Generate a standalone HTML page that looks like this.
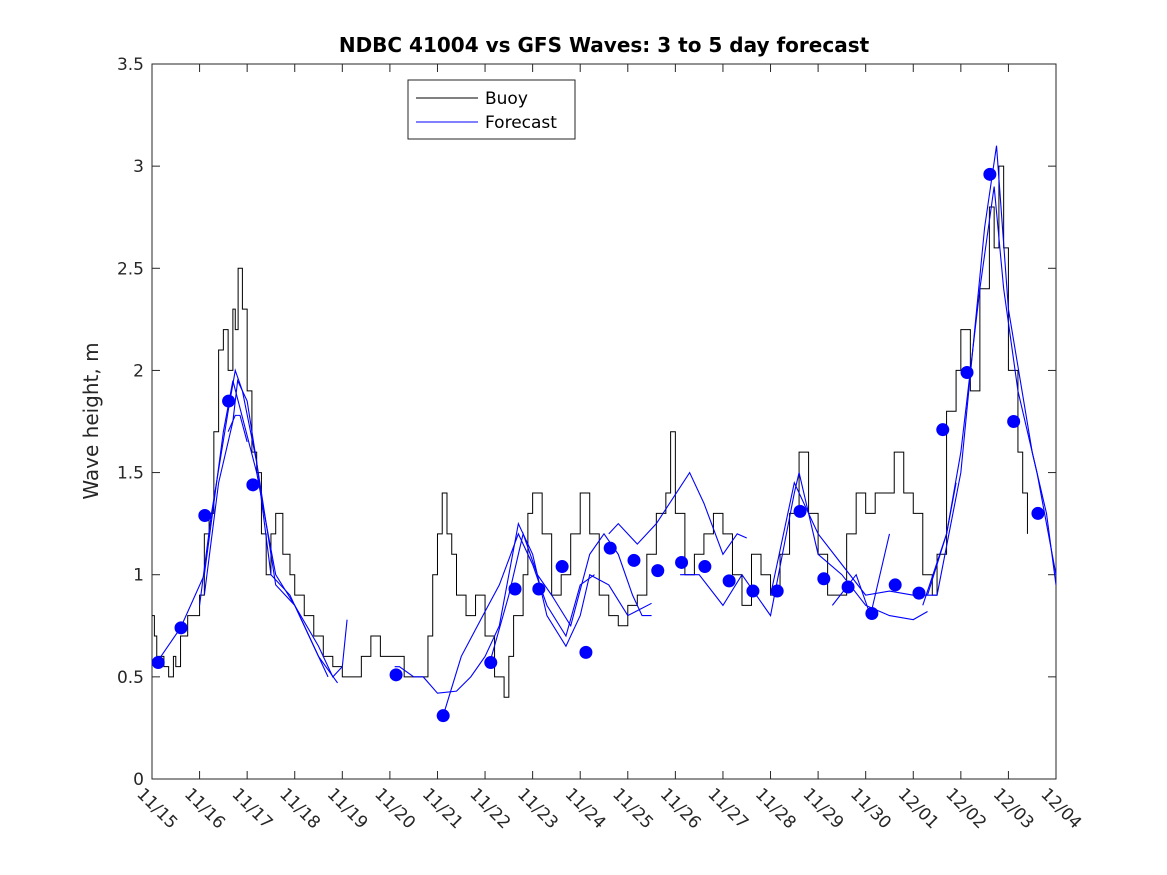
<!DOCTYPE html>
<html><head><meta charset="utf-8"><style>
body{margin:0;background:#fff;}
svg{display:block;font-family:"DejaVu Sans","Liberation Sans",sans-serif;}
</style></head><body>
<svg id="chart" width="1167" height="875">
<rect x="0" y="0" width="1167" height="875" fill="#fff"/>
<g id="plot"></g>
</svg>
<script>
const xTickLabels=["11/15","11/16","11/17","11/18","11/19","11/20","11/21","11/22","11/23","11/24","11/25","11/26","11/27","11/28","11/29","11/30","12/01","12/02","12/03","12/04"];
const yTickValues=[0,0.5,1,1.5,2,2.5,3,3.5];
const buoyDays=[0,0.05,0.1,0.25,0.35,0.45,0.5,0.6,0.75,0.85,1.0,1.1,1.2,1.3,1.4,1.5,1.6,1.7,1.75,1.81,1.9,2.0,2.1,2.2,2.3,2.4,2.5,2.6,2.75,2.9,3.0,3.2,3.4,3.6,3.8,4.0,4.2,4.4,4.6,4.8,5.0,5.3,5.6,5.8,5.9,6.0,6.1,6.2,6.3,6.4,6.6,6.8,7.0,7.2,7.4,7.5,7.6,7.8,7.9,8.0,8.2,8.4,8.6,8.8,9.0,9.2,9.4,9.6,9.8,10.0,10.2,10.4,10.6,10.8,10.9,11.0,11.2,11.4,11.6,11.8,12.0,12.2,12.4,12.6,12.8,13.0,13.2,13.4,13.6,13.8,14.0,14.2,14.4,14.6,14.8,15.0,15.2,15.4,15.6,15.8,16.0,16.2,16.4,16.5,16.7,16.9,17.0,17.2,17.4,17.6,17.7,17.8,17.9,18.0,18.2,18.3,18.4];
const buoyValues=[0.8,0.7,0.6,0.55,0.5,0.6,0.55,0.7,0.8,0.8,0.9,1.2,1.3,1.7,2.1,2.2,2.0,2.3,2.2,2.5,2.3,1.9,1.6,1.5,1.2,1.0,1.2,1.3,1.1,1.0,0.9,0.8,0.7,0.6,0.55,0.5,0.5,0.6,0.7,0.6,0.6,0.5,0.5,0.7,1.0,1.2,1.4,1.2,1.1,0.9,0.8,0.9,0.7,0.5,0.4,0.6,0.8,1.0,1.3,1.4,1.2,0.9,1.0,1.2,1.4,1.2,0.9,0.8,0.75,0.85,0.9,1.1,1.3,1.4,1.7,1.3,1.0,1.1,1.2,1.3,1.2,1.0,0.85,1.1,1.0,0.9,1.1,1.3,1.6,1.3,1.1,0.9,0.9,1.2,1.4,1.3,1.4,1.4,1.6,1.4,1.3,1.0,0.9,1.1,1.8,2.0,2.2,1.9,2.4,2.8,2.6,3.0,2.6,2.0,1.6,1.4,1.2];
const forecastDays=[
[0.1,0.6,1.1,1.5,1.7,2.2,2.6,3.0,3.5,3.8,4.0,4.1],
[1.0,1.25,1.6,1.75,1.9,2.2,2.5,2.9,3.3,3.7],
[1.1,1.4,1.7,1.8,2.0,2.3,2.6,3.0,3.5,3.9],
[1.6,1.75,1.85,2.0],
[5.1,5.2,5.5,5.7,6.0,6.4,6.7,7.0,7.3,7.7,8.0,8.3,8.7,9.0,9.2,9.6,10.0,10.5],
[6.12,6.5,7.0,7.3,7.7,8.0,8.3,8.7,9.0,9.3],
[7.1,7.5,7.8,8.1,8.4,8.8,9.2,9.5,9.8,10.1,10.3,10.5],
[9.6,9.8,10.2,10.6,11.3,11.6,12.0,12.3,12.5],
[11.1,11.5,12.0,12.4,13.0,13.5,13.6,14.0,14.5,15.0,15.5,16.0,16.3],
[13.0,13.5,14.0,14.5,15.0,15.5,16.0,16.5,17.0,17.5,17.75,18.0,18.5,18.8,19.0],
[16.2,16.7,17.0,17.4,17.7,17.9,18.2,18.6,19.0],
[16.3,16.7,16.9],
[14.3,14.8,15.1,15.5]];
const forecastValues=[
[0.57,0.74,1.0,1.7,1.95,1.5,1.0,0.85,0.65,0.5,0.55,0.78],
[0.85,1.3,1.8,2.0,1.9,1.55,1.0,0.9,0.7,0.5],
[0.9,1.45,1.75,1.95,1.85,1.4,0.95,0.85,0.6,0.47],
[1.7,1.78,1.78,1.65],
[0.55,0.55,0.5,0.5,0.42,0.43,0.5,0.6,0.75,1.25,1.1,0.8,0.65,0.8,1.0,0.95,0.8,0.86],
[0.31,0.6,0.82,0.95,1.2,1.05,0.85,0.7,0.95,1.0],
[0.57,0.9,1.2,1.0,0.9,0.75,1.1,1.2,1.1,0.9,0.8,0.8],
[1.2,1.25,1.15,1.25,1.5,1.35,1.1,1.2,1.18],
[1.0,1.0,0.85,1.0,0.8,1.4,1.5,1.1,1.0,0.85,0.8,0.78,0.82],
[0.9,1.45,1.2,1.05,0.9,0.92,0.9,0.9,1.5,2.7,3.1,2.3,1.6,1.3,0.95],
[0.85,1.2,1.6,2.4,2.9,2.4,1.9,1.5,1.0],
[0.9,1.2,1.45],
[0.85,1.0,0.8,1.2]];
const markerDays=[0.13,0.61,1.11,1.61,2.12,5.13,6.12,7.12,7.63,8.13,8.62,9.12,9.63,10.13,10.63,11.13,11.62,12.13,12.63,13.14,13.62,14.12,14.63,15.13,15.62,16.12,16.62,17.13,17.61,18.11,18.62];
const markerValues=[0.57,0.74,1.29,1.85,1.44,0.51,0.31,0.57,0.93,0.93,1.04,0.62,1.13,1.07,1.02,1.06,1.04,0.97,0.92,0.92,1.31,0.98,0.94,0.81,0.95,0.91,1.71,1.99,2.96,1.75,1.30];

const L=152,R=1056,T=64,B=779;
const xs=d=>L+d*(R-L)/19;
const ys=v=>B-v*(B-T)/3.5;
const NS="http://www.w3.org/2000/svg";
const g=document.getElementById('plot');
function mk(tag,attrs,parent){const e=document.createElementNS(NS,tag);for(const k in attrs)e.setAttribute(k,attrs[k]);(parent||g).appendChild(e);return e;}

const box=mk('rect',{x:L,y:T,width:R-L,height:B-T,fill:'none',stroke:'#262626','stroke-width':1});



yTickValues.forEach(v=>{const y=ys(v);
 mk('line',{x1:L,x2:L+8,y1:y,y2:y,stroke:'#262626'});mk('line',{x1:R,x2:R-8,y1:y,y2:y,stroke:'#262626'});
 const t=mk('text',{x:L-8,y:y+6,'text-anchor':'end','font-size':17,fill:'#262626'});t.textContent=String(v);
 
 
});
xTickLabels.forEach((lab,i)=>{const x=xs(i);
 mk('line',{x1:x,x2:x,y1:B,y2:B-8,stroke:'#262626'});mk('line',{x1:x,x2:x,y1:T,y2:T+8,stroke:'#262626'});
 const t=mk('text',{x:x-16,y:B+16,'font-size':17,fill:'#262626',transform:`rotate(45 ${x-16} ${B+16})`});t.textContent=lab;
 
 
});

let p='';buoyDays.forEach((d,i)=>{const x=xs(d),y=ys(buoyValues[i]);if(i==0)p+=`M${x},${y}`;else p+=`H${x}V${y}`;});
const bl=mk('path',{d:p,fill:'none',stroke:'#000','stroke-width':1});



forecastDays.forEach((ds,j)=>{const pts=ds.map((d,i)=>xs(d)+','+ys(forecastValues[j][i])).join(' ');
 const pl=mk('polyline',{points:pts,fill:'none',stroke:'#0000ff','stroke-width':1.1});
 
 
});
markerDays.forEach((d,i)=>{const c=mk('circle',{cx:xs(d),cy:ys(markerValues[i]),r:6.5,fill:'#0000ff'});
 
 
});

const lg=mk('g',{});


mk('rect',{x:408,y:80,width:167,height:59,fill:'#fff',stroke:'#262626'},lg);
mk('line',{x1:416,x2:478,y1:98,y2:98,stroke:'#000'},lg);
mk('line',{x1:416,x2:478,y1:122,y2:122,stroke:'#0000ff'},lg);
const t1=mk('text',{x:485,y:104,'font-size':17,fill:'#000'},lg);t1.textContent='Buoy';


const t2=mk('text',{x:485,y:128,'font-size':17,fill:'#000'},lg);t2.textContent='Forecast';



const ti=mk('text',{x:604,y:52,'text-anchor':'middle','font-size':20,'font-weight':'bold',fill:'#000'});
ti.textContent='NDBC 41004 vs GFS Waves: 3 to 5 day forecast';


const yt=mk('text',{x:98,y:421,'text-anchor':'middle','font-size':20,fill:'#262626',transform:'rotate(-90 98 421)'});
yt.textContent='Wave height, m';


</script>
</body></html>
